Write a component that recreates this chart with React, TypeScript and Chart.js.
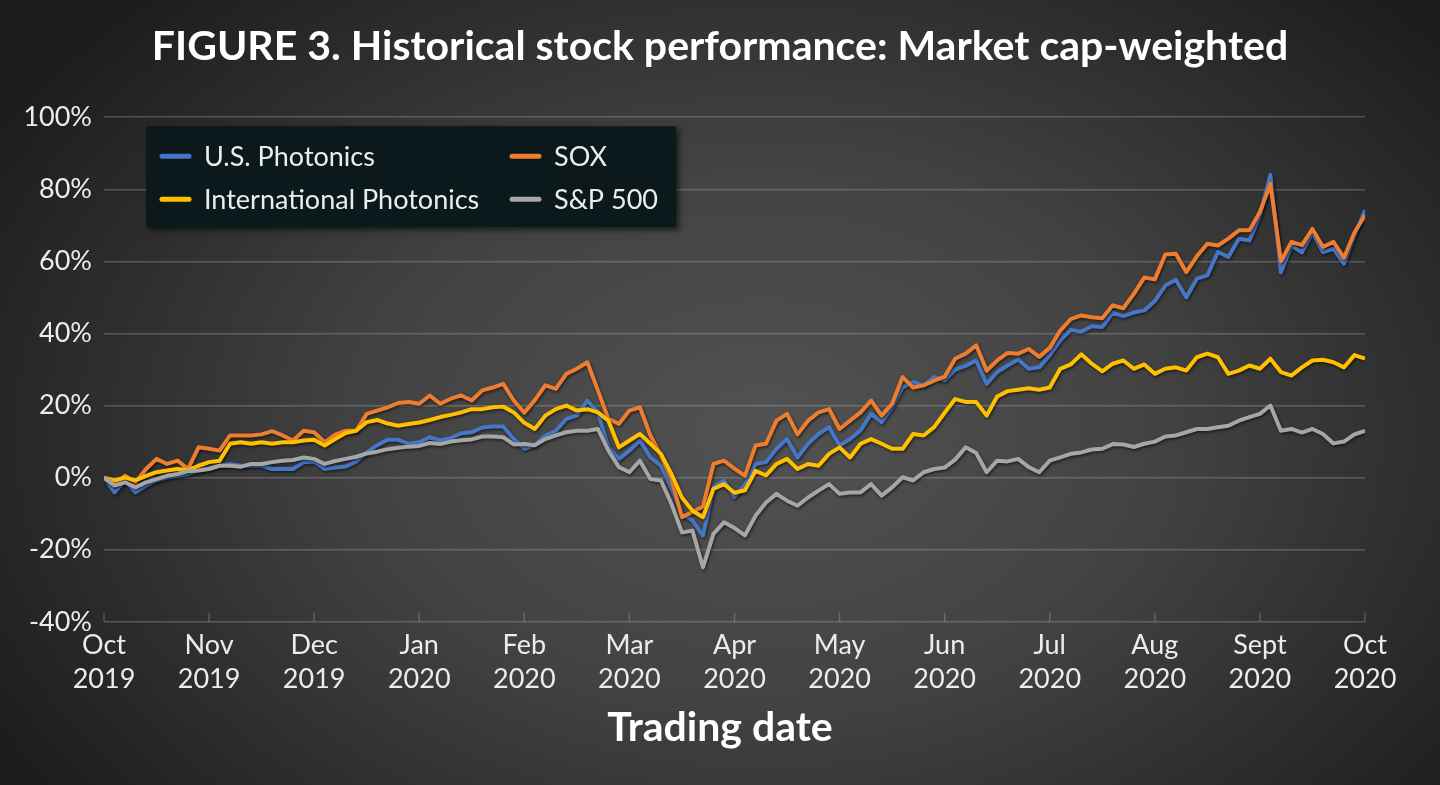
import React, { useEffect, useRef } from "react";
import { Chart, registerables } from "chart.js";

Chart.register(...registerables);

// ---------- data ----------
const TITLE = "FIGURE 3. Historical stock performance: Market cap-weighted";
const X_TITLE = "Trading date";
const MONTH_LABELS: string[][] = [
  ["Oct", "2019"], ["Nov", "2019"], ["Dec", "2019"], ["Jan", "2020"], ["Feb", "2020"],
  ["Mar", "2020"], ["Apr", "2020"], ["May", "2020"], ["Jun", "2020"], ["Jul", "2020"],
  ["Aug", "2020"], ["Sept", "2020"], ["Oct", "2020"],
];
const POINTS_PER_MONTH = 10;
const Y_MIN = -40;
const Y_MAX = 100;
const Y_STEP = 20;

const SERIES_NAMES = ["U.S. Photonics", "SOX", "International Photonics", "S&P 500"];
const SERIES_COLORS = ["#4676c6", "#ef7d2f", "#ffc000", "#a6a6a6"];

// % change, sampled every ~2 trading days (10 samples per month)
const US_PHOTONICS = [
  0, -4.1, -0.8, -4.1, -2.2, -0.8, 0, 0.5, 1, 2,
  2.7, 3.3, 3.8, 3.3, 3.3, 3.3, 2.4, 2.4, 2.4, 4.3,
  4.5, 2.4, 2.8, 3.1, 4.5, 7, 9, 10.5, 10.5, 9.4,
  9.8, 11.2, 10.3, 11, 12.3, 12.6, 13.9, 14.2, 14.2, 10.7,
  8, 9, 11.7, 13, 16.3, 17.2, 21.4, 18.1, 8.4, 5.2,
  7.5, 10.3, 5.6, 3.3, -2.7, -10.1, -11.9, -16.1, -2.7, -0.8,
  -5.3, -2, 3.8, 4.3, 8, 10.7, 5.6, 9.4, 12.1, 14,
  8.9, 10.7, 13.1, 17.7, 15.4, 19.5, 25.1, 26.5, 25.6, 27.9,
  27, 30, 31, 32.5, 26, 29.3, 31.1, 32.8, 30.2, 30.6,
  34, 38.1, 41, 40.5, 42, 41.8, 45.7, 44.8, 45.8, 46.4,
  49, 53.3, 54.9, 50, 55.2, 56.1, 62.6, 61.2, 66.3, 65.8,
  72.8, 84, 57, 64.4, 62.5, 68, 62.6, 63.5, 59.4, 67.2, 74.2,
];
const SOX = [
  0, -1.8, 0.5, -1.3, 2.4, 5.2, 3.8, 4.7, 2.4, 8.4,
  8, 7.5, 11.7, 11.7, 11.7, 12, 12.9, 11.7, 10.3, 13,
  12.6, 9.8, 11.9, 13, 13, 17.7, 18.6, 19.5, 20.7, 21,
  20.5, 22.8, 20.5, 21.9, 22.8, 21.4, 24.2, 25, 26, 21.4,
  18, 21.5, 25.6, 24.6, 28.8, 30.2, 32, 24.2, 16.3, 14.9,
  18.6, 19.5, 11.7, 6.1, -0.4, -11, -9.5, -8, 3.8, 4.7,
  2.5, 0.5, 8.9, 9.4, 15.8, 17.7, 12, 15.8, 18.1, 19,
  13.5, 15.8, 18.1, 21.4, 17.2, 20.5, 27.9, 25, 25.6, 26.9,
  28, 33, 34.4, 36.7, 29.7, 32.5, 34.6, 34.4, 35.7, 33.5,
  36, 40.8, 44, 45, 44.5, 44.2, 47.8, 47, 51, 55.5,
  55, 61.9, 62.1, 57, 61.4, 64.9, 64.4, 66.3, 68.6, 68.6,
  73.7, 81.5, 60, 65.4, 64.5, 69, 64, 65.4, 61, 68, 72.8,
];
const INTL_PHOTONICS = [
  0, -0.8, 0, -0.8, 0.5, 1.5, 2, 2.4, 2.1, 3.3,
  4.3, 4.7, 9.4, 9.8, 9.4, 9.8, 9.4, 9.8, 9.8, 10.3,
  10.5, 8.9, 10.7, 12.4, 13, 15.4, 16, 15, 14.4, 14.9,
  15.3, 16, 16.8, 17.4, 18.1, 19, 19, 19.5, 19.7, 18.1,
  15.2, 13.5, 17.2, 19, 20, 18.6, 19, 18.1, 15.8, 8.4,
  10.3, 12.1, 9.4, 6.6, 1, -5.5, -9.2, -11, -3.1, -1.8,
  -4.2, -3.5, 1.9, 0.6, 3.8, 5.2, 2.4, 3.8, 3.3, 6.6,
  8.4, 5.6, 9.4, 10.7, 9.4, 8, 8, 12.1, 11.7, 14,
  18, 21.8, 21, 21, 17.2, 22.5, 24, 24.4, 24.8, 24.4,
  25, 30.2, 31.4, 34.2, 31.6, 29.5, 31.6, 32.5, 30.2, 31.4,
  28.8, 30.2, 30.6, 29.7, 33.4, 34.4, 33.4, 28.8, 29.7, 31.1,
  30.2, 33, 29.3, 28.3, 30.6, 32.5, 32.7, 32, 30.6, 34, 33,
];
const SP500 = [
  0, -2.2, -1.3, -2.7, -1.3, -0.4, 0.5, 1, 1.8, 2,
  2.4, 3.3, 3.3, 3, 3.8, 3.8, 4.3, 4.7, 4.9, 5.6,
  5.2, 3.8, 4.6, 5.2, 5.8, 6.7, 7.2, 7.9, 8.3, 8.6,
  8.8, 9.6, 9.3, 10, 10.4, 10.6, 11.4, 11.4, 11.2, 9.2,
  9.3, 9, 10.7, 11.7, 12.6, 13, 13, 13.5, 7.5, 2.9,
  1.5, 4.7, -0.4, -0.8, -7.3, -15.2, -14.7, -24.9, -15.6, -12.4,
  -14, -16, -10.6, -6.9, -4.5, -6.4, -7.8, -5.5, -3.6, -1.8,
  -4.5, -4.1, -4.1, -1.8, -5, -2.7, 0.1, -0.8, 1.5, 2.4,
  2.8, 5, 8.4, 6.8, 1.5, 4.7, 4.5, 5.2, 2.9, 1.5,
  4.7, 5.6, 6.6, 7, 7.8, 8, 9.3, 9.2, 8.5, 9.4,
  10, 11.4, 11.7, 12.6, 13.5, 13.5, 14, 14.4, 15.8, 16.8,
  17.7, 20, 13, 13.5, 12.5, 13.5, 12.1, 9.5, 10, 12, 13,
];
const SERIES_VALUES = [US_PHOTONICS, SOX, INTL_PHOTONICS, SP500];
// drawing order: lower = on top
const SERIES_ORDER = [3, 2, 1, 0];

// ---------- style ----------
const FONT = "Lato, 'Open Sans', sans-serif";
const TEXT_COLOR = "#ececec";
const GRID_COLOR = "rgba(255,255,255,0.2)";

const innerTicks = {
  id: "innerTicks",
  beforeDatasetsDraw(chart: any) {
    const { ctx, chartArea } = chart;
    const xs = chart.scales.x;
    ctx.save();
    ctx.strokeStyle = GRID_COLOR;
    ctx.lineWidth = 1.5;
    xs.ticks.forEach((t: any) => {
      const px = xs.getPixelForValue(t.value);
      ctx.beginPath();
      ctx.moveTo(px, chartArea.bottom);
      ctx.lineTo(px, chartArea.bottom - 9);
      ctx.stroke();
    });
    ctx.restore();
  },
};

const lineShadow = {
  id: "lineShadow",
  beforeDatasetDraw(chart: any) {
    const ctx = chart.ctx;
    ctx.save();
    ctx.shadowColor = "rgba(0,0,0,0.6)";
    ctx.shadowBlur = 3;
    ctx.shadowOffsetX = 1;
    ctx.shadowOffsetY = 1.5;
  },
  afterDatasetDraw(chart: any) {
    chart.ctx.restore();
  },
};

const boxLegend = {
  id: "boxLegend",
  afterDatasetsDraw(chart: any) {
    const { ctx, chartArea } = chart;
    const x0 = chartArea.left + 42;
    const y0 = chartArea.top + 9;
    const w = 530;
    const h = 101;
    ctx.save();
    ctx.shadowColor = "rgba(0,0,0,0.6)";
    ctx.shadowBlur = 6;
    ctx.shadowOffsetX = 3;
    ctx.shadowOffsetY = 3;
    ctx.fillStyle = "#0b191c";
    ctx.fillRect(x0, y0, w, h);
    ctx.restore();
    ctx.save();
    ctx.font = `27px ${FONT}`;
    ctx.textBaseline = "middle";
    const cols = [x0 + 14, x0 + 364];
    const rows = [y0 + 30, y0 + 73];
    chart.data.datasets.forEach((ds: any, k: number) => {
      const cx = cols[k % 2];
      const cy = rows[Math.floor(k / 2)];
      ctx.strokeStyle = ds.borderColor;
      ctx.lineWidth = 5;
      ctx.lineCap = "round";
      ctx.beginPath();
      ctx.moveTo(cx + 2, cy);
      ctx.lineTo(cx + 29, cy);
      ctx.stroke();
      ctx.fillStyle = TEXT_COLOR;
      ctx.fillText(ds.label, cx + 44, cy + 1);
    });
    ctx.restore();
  },
};

export default function App() {
  const ref = useRef<HTMLCanvasElement | null>(null);

  useEffect(() => {
    if (!ref.current) return;
    const datasets = SERIES_NAMES.map((name, k) => ({
      label: name,
      data: SERIES_VALUES[k].map((v, i) => ({ x: i / POINTS_PER_MONTH, y: v })),
      borderColor: SERIES_COLORS[k],
      backgroundColor: SERIES_COLORS[k],
      borderWidth: 4,
      pointRadius: 0,
      tension: 0,
      order: SERIES_ORDER[k],
      borderJoinStyle: "round" as const,
    }));
    const chart = new Chart(ref.current, {
      type: "line",
      data: { datasets },
      plugins: [innerTicks, lineShadow, boxLegend],
      options: {
        responsive: false,
        animation: false,
        layout: { padding: 0 },
        plugins: {
          legend: { display: false },
          tooltip: { enabled: false },
          title: {
            display: true,
            text: TITLE,
            color: "#ffffff",
            font: { family: FONT, size: 41, weight: "bold", lineHeight: 1.2 },
            padding: { top: 22, bottom: 46 },
          },
          subtitle: {
            display: true,
            position: "bottom",
            text: X_TITLE,
            color: "#ffffff",
            font: { family: FONT, size: 41, weight: "bold", lineHeight: 1.2 },
            padding: { top: 0, bottom: 33 },
          },
        },
        scales: {
          x: {
            type: "linear",
            min: 0,
            max: MONTH_LABELS.length - 1,
            afterFit: (s: any) => { s.height = 81; },
            ticks: {
              stepSize: 1,
              autoSkip: false,
              maxRotation: 0,
              color: TEXT_COLOR,
              padding: 7,
              font: { family: FONT, size: 27, lineHeight: 1.25 },
              callback: (v: any) => MONTH_LABELS[Math.round(Number(v))] ?? "",
            },
            grid: { display: false, drawTicks: false },
            border: { display: false },
          },
          y: {
            min: Y_MIN,
            max: Y_MAX,
            afterFit: (s: any) => { s.width = 104; },
            ticks: {
              stepSize: Y_STEP,
              color: TEXT_COLOR,
              padding: 12,
              font: { family: FONT, size: 27 },
              callback: (v: any) => `${v}%`,
            },
            grid: { color: GRID_COLOR, lineWidth: 1.5, drawTicks: false },
            border: { display: false },
          },
          yRight: {
            position: "right",
            min: Y_MIN,
            max: Y_MAX,
            afterFit: (s: any) => { s.width = 75; },
            ticks: { display: false },
            grid: { display: false, drawTicks: false },
            border: { display: false },
          },
        },
      },
    });
    return () => chart.destroy();
  }, []);

  return (
    <div
      style={{
        position: "fixed",
        left: 0,
        top: 0,
        width: 1440,
        height: 785,
        background:
          "radial-gradient(ellipse 62% 78% at 53% 55%, #525252 0%, #424242 45%, #2a2a2a 80%, #1c1c1c 100%)",
      }}
    >
      <canvas ref={ref} width={1440} height={785} style={{ display: "block" }} />
    </div>
  );
}
